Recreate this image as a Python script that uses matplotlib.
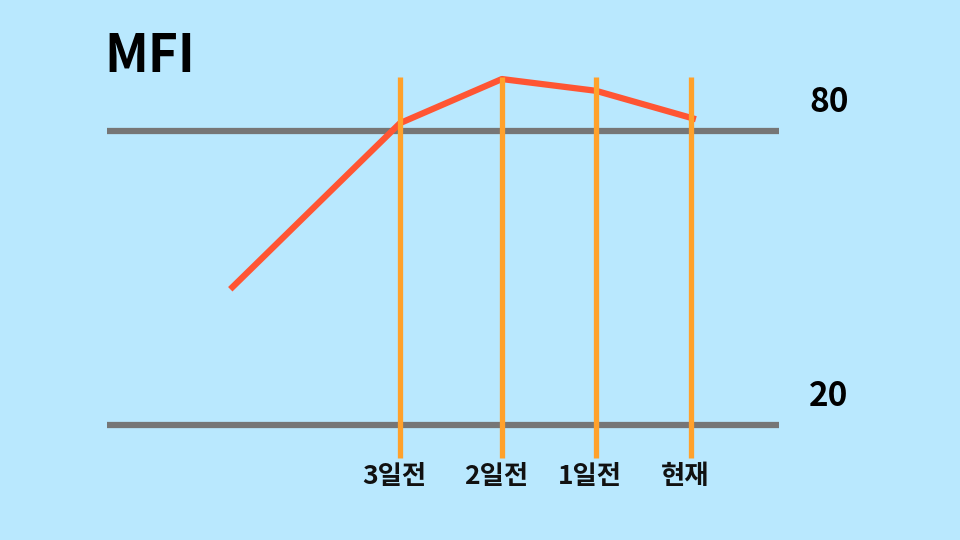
import matplotlib.pyplot as plt

plt.rcParams['font.family'] = ['Noto Sans CJK KR', 'DejaVu Sans']

# 데이터
day_labels = ["3일전", "2일전", "1일전", "현재"]
day_pos = [-3, -1.95, -0.98, 0]
mfi_x = [-4.75, -3, -1.95, -0.98, 0.05]
mfi_y = [47.7, 81.6, 90.6, 88.2, 82.4]
levels = [80, 20]

bg = '#B9E8FE'
fig = plt.figure(figsize=(9.6, 5.4), dpi=100, facecolor=bg)
ax = fig.add_axes([0, 0, 1, 1])
ax.set_facecolor(bg)
ax.set_xlim(-7.124, 2.773)
ax.set_ylim(-3.47, 106.73)
ax.axis('off')

# 기준선 80 / 20
ax.hlines(levels, -6.02, 0.91, colors='#767676', linewidth=4.5, zorder=1)
for lv in levels:
    ax.text(1.42, lv + 5.9, str(lv), fontsize=24, fontweight='bold',
            ha='center', va='center', color='black')

# 날짜 세로선
ax.vlines(day_pos, 13.3, 91.0, colors='#FFA12B', linewidth=3.8, zorder=3)
for x, lab in zip(day_pos, day_labels):
    ax.text(x - 0.06, 9.4, lab, fontsize=19, fontweight='bold',
            ha='center', va='center', color='#111111')

# MFI 선
ax.plot(mfi_x, mfi_y, color='#FF5533', linewidth=4.5, solid_capstyle='butt', zorder=2)

ax.text(-6.05, 95.1, "MFI", fontsize=37, fontweight='bold',
        ha='left', va='center', color='black')

fig.savefig('out.png', dpi=100, facecolor=bg)
